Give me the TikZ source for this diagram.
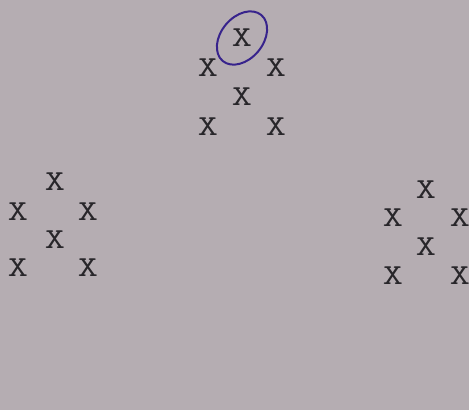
\documentclass[tikz,border=0pt]{standalone}
\definecolor{paper}{RGB}{181,173,178}
\definecolor{typeink}{RGB}{40,38,42}
\definecolor{penink}{RGB}{55,35,140}
\newcommand{\tx}{\scalebox{1.35}[1]{X}}
\begin{document}
\begin{tikzpicture}[x=1pt,y=-1pt,
  xmark/.style={font=\ttfamily\fontsize{29}{29}\selectfont, text=typeink, inner sep=0pt}]
\fill[paper] (0,0) rectangle (469,410);
\useasboundingbox (0,0) rectangle (469,410);
% top group
\node[xmark] (t0) at (242,38) {\tx};
\node[xmark] (t1) at (208,68) {\tx};
\node[xmark] (t2) at (276,68) {\tx};
\node[xmark] (t3) at (242,97) {\tx};
\node[xmark] (t4) at (208,127) {\tx};
\node[xmark] (t5) at (276,127) {\tx};
% left group
\node[xmark] (l0) at (55,182) {\tx};
\node[xmark] (l1) at (18,212) {\tx};
\node[xmark] (l2) at (88,212) {\tx};
\node[xmark] (l3) at (55,240) {\tx};
\node[xmark] (l4) at (18,268) {\tx};
\node[xmark] (l5) at (88,268) {\tx};
% right group
\node[xmark] (r0) at (426,190) {\tx};
\node[xmark] (r1) at (393,218) {\tx};
\node[xmark] (r2) at (460,218) {\tx};
\node[xmark] (r3) at (426,247) {\tx};
\node[xmark] (r4) at (393,276) {\tx};
\node[xmark] (r5) at (460,276) {\tx};
% pen circle
\draw[penink, line width=2pt, rotate around={50:(t0.center)}] (t0.center) ellipse [x radius=30, y radius=21];
\end{tikzpicture}
\end{document}
